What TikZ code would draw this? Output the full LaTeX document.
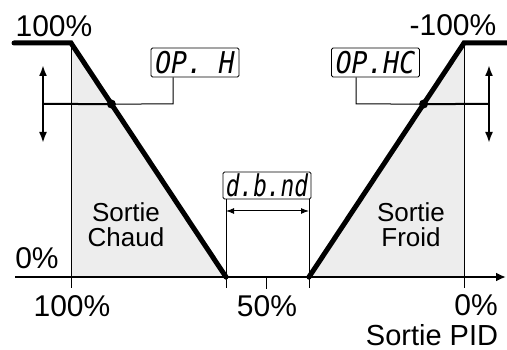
\documentclass[tikz,border=0pt]{standalone}
\usepackage{fontspec}
\setmainfont{Liberation Sans}
\newfontfamily\segfont{DejaVu Sans Mono}
\usetikzlibrary{arrows.meta,calc}
\tikzset{
  heavy/.style={line width=5pt, line cap=round, line join=miter},
  thinl/.style={line width=1pt},
  medl/.style={line width=2pt},
  axisl/.style={line width=2pt, -{Latex[length=10pt,width=9pt]}},
  dbl/.style={line width=2pt, {Latex[length=11pt,width=8pt]}-{Latex[length=11pt,width=8pt]}},
  dbthin/.style={line width=1pt, {Latex[length=8pt,width=6pt]}-{Latex[length=8pt,width=6pt]}},
  seg/.style={draw, line width=0.9pt, rounded corners=1.5pt, minimum width=88pt, inner sep=0pt,
    font=\segfont\itshape\fontsize{30}{30}\selectfont},
  big/.style={anchor=base, inner sep=0pt, font=\fontsize{30}{30}\selectfont},
  lbl/.style={align=center, inner sep=0pt, font=\fontsize{26}{25}\selectfont},
  zone/.style={fill=black!7}
}
\begin{document}
\begin{tikzpicture}[x=1pt,y=-1pt]
\useasboundingbox (0,0) rectangle (507,350);
% key points
\coordinate (hl) at (14,43);
\coordinate (hc) at (71,43);
\coordinate (hz) at (226,277);
\coordinate (cz) at (309,277);
\coordinate (cc) at (464,43);
\coordinate (cr) at (510,43);
\coordinate (hb) at (71,288);
\coordinate (cb) at (464,288);
\coordinate (ax0) at (15,277);
\coordinate (ax1) at (506,277);
% shaded zones
\fill[zone] (hc) -- (hz) -- (71,277) -- cycle;
\fill[zone] (cz) -- (cc) -- (464,277) -- cycle;
% verticals
\draw[thinl] (hc) -- (hb);
\draw[thinl] (cc) -- (cb);
% axis
\draw[axisl] (ax0) -- (ax1);
\coordinate (mt0) at (266,277);
\coordinate (mt1) at (266,289);
\draw[thinl] (mt0) -- (mt1);
% dead band box
\node[seg, minimum height=27pt] (dbnd) at (267,185.5) {\scalebox{0.76}[1]{d.b.nd}};
\coordinate (dbl) at (226,288);
\coordinate (dbr) at (309,288);
\draw[thinl] (dbnd.south -| dbl) -- (dbl);
\draw[thinl] (dbnd.south -| dbr) -- (dbr);
\coordinate (dal) at (226,211);
\coordinate (dar) at (309,211);
\draw[dbthin] (dal) -- (dar);
% heavy lines
\draw[heavy] (hl) -- (hc) -- (hz);
\draw[heavy] (cz) -- (cc) -- (cr);
\fill (hz) circle (2.5pt);
\fill (cz) circle (2.5pt);
% OP. H
\node[seg, minimum height=29pt] (oph) at (195,62.5) {\scalebox{0.88}[1]{OP.~H}};
\coordinate (d1) at ($(hc)!0.2607!(hz)$);
\coordinate (k1) at (173,104);
\coordinate (a1) at (43,104);
\coordinate (a1t) at (43,65);
\coordinate (a1b) at (43,143);
\draw[thinl] (oph.south -| k1) -- (k1) -- (d1);
\draw[medl] (d1) -- (a1);
\draw[dbl] (a1t) -- (a1b);
\fill (d1) circle (4.5pt);
% OP.HC
\node[seg, minimum height=29pt] (ophc) at (375.5,62.5) {\scalebox{0.88}[1]{OP.HC}};
\coordinate (d2) at ($(cc)!0.2607!(cz)$);
\coordinate (k2) at (356,104);
\coordinate (a2) at (489,104);
\coordinate (a2t) at (489,65);
\coordinate (a2b) at (489,143);
\draw[thinl] (ophc.south -| k2) -- (k2) -- (d2);
\draw[medl] (d2) -- (a2);
\draw[dbl] (a2t) -- (a2b);
\fill (d2) circle (4.5pt);
% labels
\node[big] (t100) at (54,37) {100\%};
\node[big] (tm100) at (453,36) {-100\%};
\node[big] (t0l) at (37,269) {0\%};
\node[big] (b100) at (72,317) {100\%};
\node[big] (b50) at (267,317) {50\%};
\node[big] (b0) at (476,316) {0\%};
\node[big, font=\fontsize{29}{29}\selectfont] (pid) at (432,345) {Sortie PID};
\node[lbl] (chaud) at (126,225) {Sortie\\Chaud};
\node[lbl] (froid) at (411,225) {Sortie\\Froid};
\end{tikzpicture}
\end{document}
